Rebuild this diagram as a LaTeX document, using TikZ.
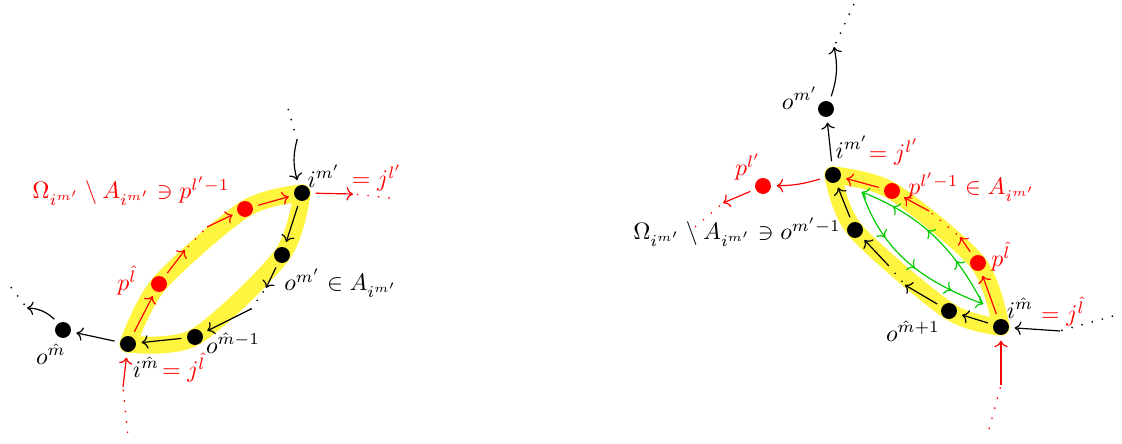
\documentclass[tikz,border=0pt]{standalone}
\usepackage{amsmath,amssymb}
\usepackage{tikz}
\usepackage{xcolor}
\usetikzlibrary{arrows.meta,positioning,backgrounds,decorations.markings}

\begin{document}
\begin{tikzpicture}[x=0.42pt,y=0.42pt,line width=0.5pt,
  dot/.style={circle,fill=black,inner sep=0pt,minimum size=6.7pt,outer sep=2.4pt},
  rdot/.style={dot,fill=red},
  lbl/.style={inner sep=1pt},
  arr/.style={->},
  rarr/.style={->,red},
  dts/.style={line width=0.8pt,dash pattern=on 0pt off 4.4pt,line cap=round,shorten <=2pt},
  hl/.style={yellow!75,line width=7.2pt,line cap=round},
  garr/.style={->,green!80!black,postaction={decorate},decoration={markings,
    mark=at position 0.3 with {\arrow{>}},
    mark=at position 0.55 with {\arrow{>}},
    mark=at position 0.8 with {\arrow{>}}}}]
  \useasboundingbox (0,0) rectangle (1122,444);

  % left lens
  \node[dot] (im) at (128,100) {};
  \node[dot] (om) at (63,114) {};
  \node[dot] (omb) at (195,107) {};
  \node[dot] (omp) at (282,189) {};
  \node[dot] (imp) at (302,251) {};
  \node[rdot] (pl) at (159,160) {};
  \node[rdot] (plb) at (245,235) {};
  \coordinate (ua) at (185,194);
  \coordinate (ub) at (207,217);
  \coordinate (la) at (266,156);
  \coordinate (lb) at (251,135);
  \coordinate (oa) at (27,136);
  \coordinate (ob) at (10,158);
  \coordinate (ia) at (128,7);
  \coordinate (ib) at (123,57);
  \coordinate (ta) at (287,339);
  \coordinate (tb) at (297,304);
  \coordinate (tc) at (353,250);
  \coordinate (td) at (390,246);

  \begin{scope}[on background layer]
    \draw[hl] plot[smooth] coordinates {(im.center) (pl.center) (plb.center) (imp.center)};
    \draw[hl] plot[smooth] coordinates {(imp.center) (omp.center) (omb.center) (im.center)};
  \end{scope}

  \draw[rarr] (im) -- (pl);
  \draw[rarr] (pl) -- (ua);
  \draw[red,dts] (ua) -- (ub);
  \draw[rarr] (ub) -- (plb);
  \draw[rarr] (plb) -- (imp);
  \draw[arr] (imp) -- (omp);
  \draw[arr] (omp) -- (la);
  \draw[dts] (la) -- (lb);
  \draw[arr] (lb) -- (omb);
  \draw[arr] (omb) -- (im);
  \draw[arr] (im) -- (om);
  \draw[arr] (om) to[bend right=20] (oa);
  \draw[dts] (oa) -- (ob);
  \draw[red,dts] (ia) -- (ib);
  \draw[rarr] (ib) -- (im);
  \draw[dts] (ta) -- (tb);
  \draw[arr] (tb) to[bend right=15] (imp);
  \draw[rarr] (imp) -- (tc);
  \draw[red,dts] (tc) -- (td);

  \node[lbl,red] (omglbl) at (131,253) {$\Omega_{i^{m'}}\setminus A_{i^{m'}}\ni p^{l'-1}$};
  \node[lbl,red] (pllbl) at (127,163) {$p^{\hat l}$};
  \node[lbl] (omplbl) at (341,161) {$o^{m'}\in A_{i^{m'}}$};
  \node[lbl] (omblbl) at (233,101) {$o^{\hat m-1}$};
  \node[lbl] (omlbl) at (51,90) {$o^{\hat m}$};
  \node[lbl] (imlbl) at (146,77) {$i^{\hat m}$};
  \node[lbl,red] (imeq) at (184,76) {$=j^{\hat l}$};
  \node[lbl] (implbl) at (324,268) {$i^{m'}$};
  \node[lbl,red] (impeq) at (377,266) {$=j^{l'}$};

  % right lens
  \node[dot] (im2) at (1001,117) {};
  \node[dot] (omh) at (949,133) {};
  \node[dot] (omp1) at (855,214) {};
  \node[dot] (imp2) at (833,269) {};
  \node[dot] (omp2) at (826,335) {};
  \node[rdot] (pp) at (763,258) {};
  \node[rdot] (pl2) at (978,181) {};
  \node[rdot] (plb2) at (892,253) {};
  \coordinate (ra) at (905,159);
  \coordinate (rb) at (888,179);
  \coordinate (rc) at (960,207);
  \coordinate (rd) at (929,233);
  \coordinate (re) at (723,241);
  \coordinate (rf) at (688,211);
  \coordinate (sa) at (834,397);
  \coordinate (sb) at (854,440);
  \coordinate (qa) at (1117,129);
  \coordinate (qb) at (1060,113);
  \coordinate (wa) at (988,11);
  \coordinate (wb) at (1001,59);
  \coordinate (ga) at (862,252);
  \coordinate (gb) at (983,140);

  \begin{scope}[on background layer]
    \draw[hl] plot[smooth] coordinates {(im2.center) (pl2.center) (plb2.center) (imp2.center)};
    \draw[hl] plot[smooth] coordinates {(imp2.center) (omp1.center) (omh.center) (im2.center)};
  \end{scope}

  \draw[arr] (im2) -- (omh);
  \draw[arr] (omh) -- (ra);
  \draw[dts] (ra) -- (rb);
  \draw[arr] (rb) -- (omp1);
  \draw[arr] (omp1) -- (imp2);
  \draw[arr] (imp2) -- (omp2);
  \draw[arr] (omp2) to[bend right=15] (sa);
  \draw[dts] (sa) -- (sb);
  \draw[dts] (qa) -- (qb);
  \draw[arr] (qb) -- (im2);
  \draw[red,dts] (wa) -- (wb);
  \draw[rarr] (wb) -- (im2);
  \draw[rarr] (im2) -- (pl2);
  \draw[rarr] (pl2) -- (rc);
  \draw[red,dts] (rc) -- (rd);
  \draw[rarr] (rd) -- (plb2);
  \draw[rarr] (plb2) -- (imp2);
  \draw[rarr] (imp2) to[bend left=8] (pp);
  \draw[rarr] (pp) -- (re);
  \draw[red,dts] (re) -- (rf);
  \draw[garr] (gb) to[out=118,in=-22] (ga);
  \draw[garr] (ga) to[out=-71,in=159] (gb);

  \node[lbl] (omp2lbl) at (800,346) {$o^{m'}$};
  \node[lbl] (imp2lbl) at (852,297) {$i^{m'}$};
  \node[lbl,red] (imp2eq) at (894,292) {$=j^{l'}$};
  \node[lbl,red] (pplbl) at (748,277) {$p^{l'}$};
  \node[lbl,red] (plb2lbl) at (972,257) {$p^{l'-1}\in A_{i^{m'}}$};
  \node[lbl] (omp1lbl) at (737,212) {$\Omega_{i^{m'}}\setminus A_{i^{m'}}\ni o^{m'-1}$};
  \node[lbl,red] (pl2lbl) at (1001,187) {$p^{\hat l}$};
  \node[lbl] (im2lbl) at (1020,136) {$i^{\hat m}$};
  \node[lbl,red] (im2eq) at (1063,132) {$=j^{\hat l}$};
  \node[lbl] (omhlbl) at (913,113) {$o^{\hat m+1}$};
\end{tikzpicture}
\end{document}
